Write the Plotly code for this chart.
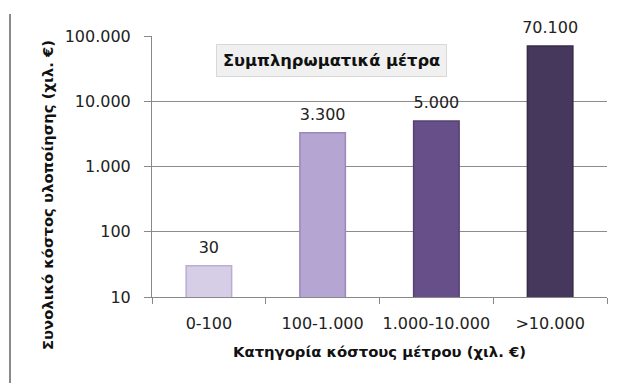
import plotly.graph_objects as go

categories = ["0-100", "100-1.000", "1.000-10.000", ">10.000"]
values = [30, 3300, 5000, 70100]
bar_colors = ["#d6cde6", "#b5a5d2", "#67508a", "#46385c"]
edge_colors = ["#b9aed0", "#9a89ba", "#54416f", "#382c4a"]
y_tickvals = [10, 100, 1000, 10000, 100000]
y_ticktext = ["10", "100", "1.000", "10.000", "100.000"]

FONT = "DejaVu Sans, sans-serif"
PW, PH = 455, 261  # plot area size in px

fig = go.Figure()
fig.add_trace(go.Bar(
    x=categories, y=values, width=0.4,
    marker=dict(color=bar_colors, line=dict(color=edge_colors, width=1.5)),
))
fig.add_trace(go.Scatter(
    x=categories, y=values, mode="markers+text",
    marker=dict(size=13, color="rgba(0,0,0,0)"),
    text=[f"{v:,}".replace(",", ".") for v in values],
    textposition="top center", cliponaxis=False, hoverinfo="skip",
    textfont=dict(family=FONT, size=16, color="#222222"),
))

fig.update_layout(
    width=618, height=383,
    margin=dict(l=152, r=11, t=36, b=86),
    plot_bgcolor="white", paper_bgcolor="white",
    showlegend=False,
    font=dict(family=FONT, size=14, color="#222222"),
    xaxis=dict(
        type="category", tickson="boundaries", automargin=False,
        tickangle=0,
        ticks="outside", ticklen=6, tickcolor="#888888",
        ticklabelstandoff=12,
        showline=True, linecolor="#888888", linewidth=1,
        showgrid=False,
        tickfont=dict(family=FONT, size=16, color="#222222"),
        title=dict(text="<b>Κατηγορία κόστους μέτρου (χιλ. €)</b>",
                   font=dict(family=FONT, size=14.8, color="#111111"), standoff=14),
    ),
    yaxis=dict(
        type="log", range=[1, 5], automargin=False,
        tickvals=y_tickvals, ticktext=y_ticktext,
        ticks="outside", ticklen=7, tickcolor="#888888",
        ticklabelstandoff=10,
        showline=True, linecolor="#888888", linewidth=1,
        showgrid=True, gridcolor="#8c8c8c", gridwidth=1,
        zeroline=False,
        tickfont=dict(family=FONT, size=16, color="#222222"),
    ),
    shapes=[dict(type="line", xref="paper", yref="paper",
                 x0=-142/PW, x1=-142/PW, y0=-90/PH, y1=1 + 22/PH,
                 line=dict(color="#8a8a8a", width=2))],
    annotations=[
        dict(text="<b>Συμπληρωματικά μέτρα</b>", xref="paper", yref="paper",
             x=(331-152)/PW, y=1 - (60-36)/PH, xanchor="center", yanchor="middle",
             showarrow=False, font=dict(family=FONT, size=16.3, color="#111111"),
             bgcolor="#f0f0f0", bordercolor="#d8d8d8", borderwidth=1, borderpad=6),
        dict(text="<b>Συνολικό κόστος υλοποίησης (χιλ. €)</b>", xref="paper", yref="paper",
             x=(47-152)/PW, y=(297-195)/PH, xanchor="center", yanchor="middle",
             textangle=-90, showarrow=False,
             font=dict(family=FONT, size=14.8, color="#111111")),
    ],
)

fig.write_html("out.html", config={"displayModeBar": False},
               post_script="document.body.style.margin='0px';")
